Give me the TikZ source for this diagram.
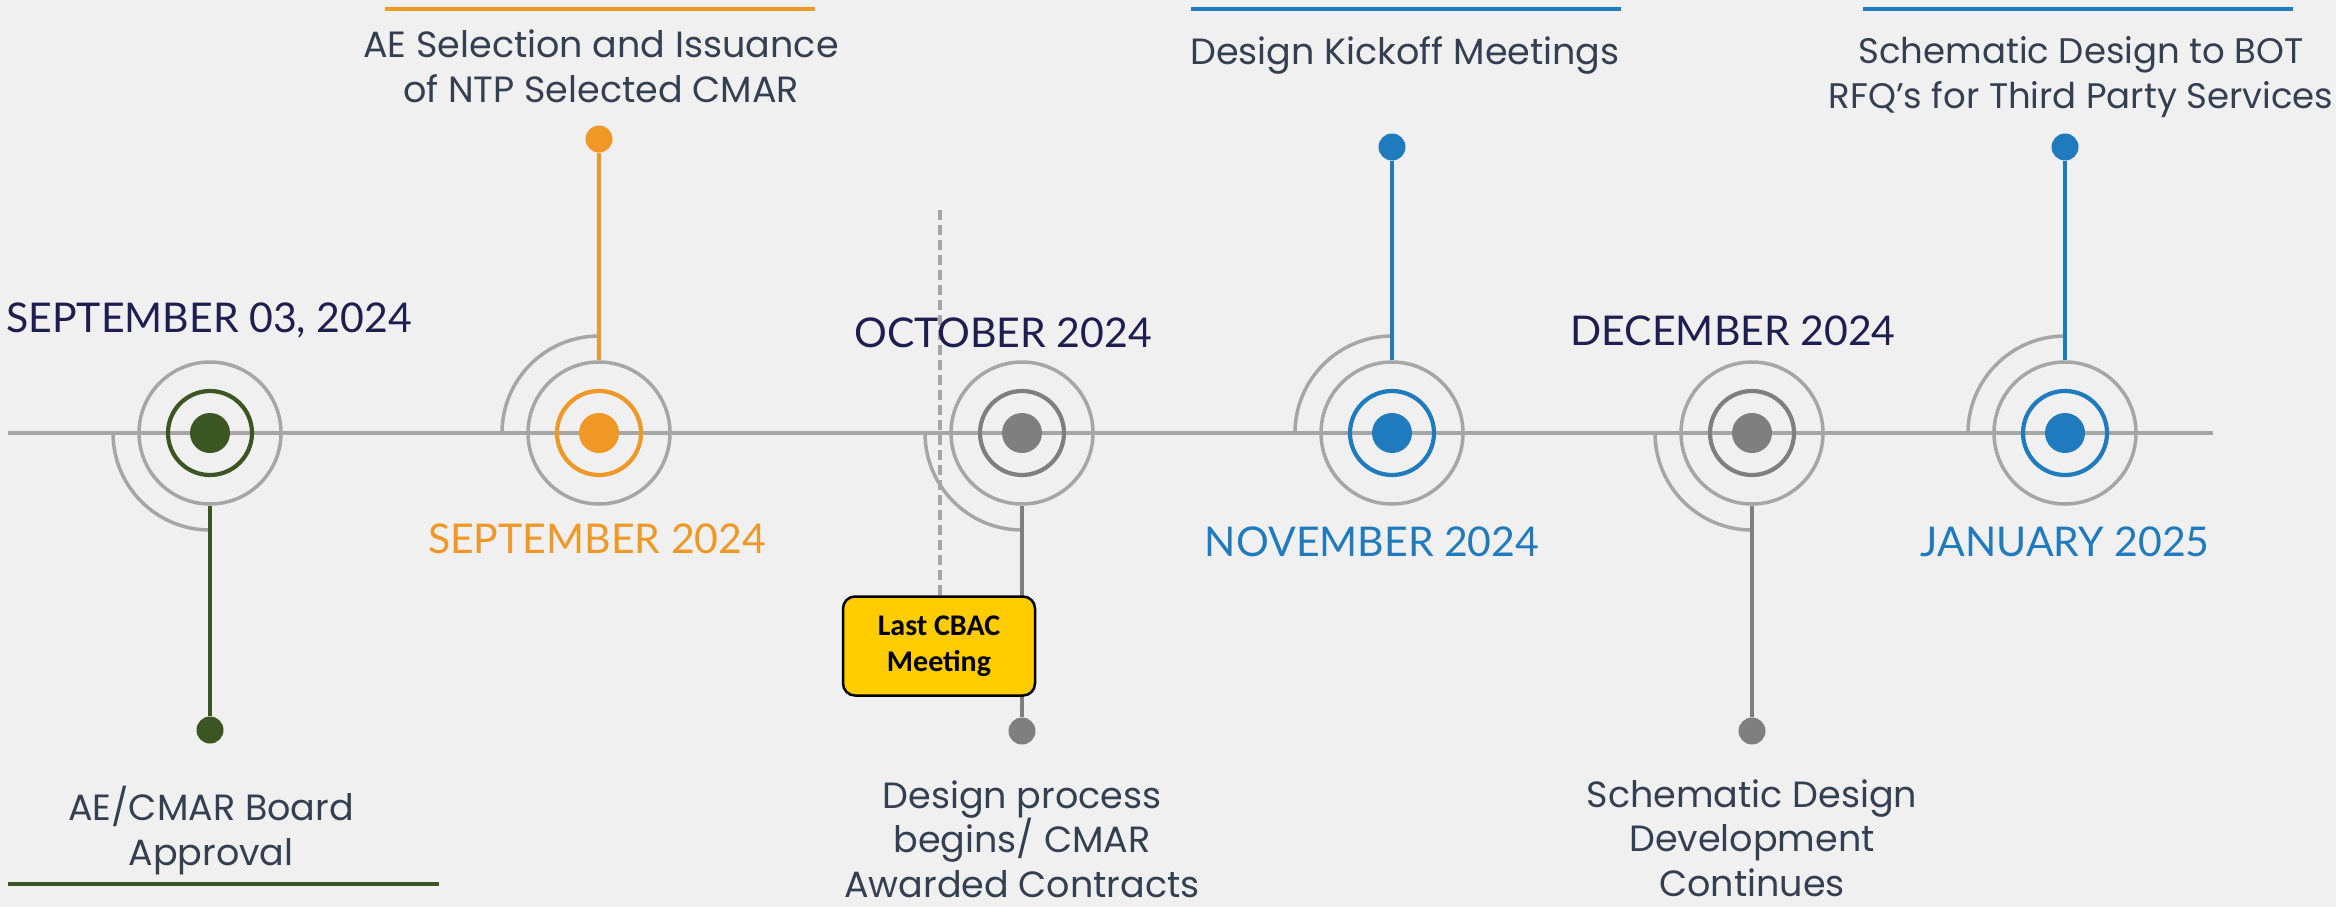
\documentclass[tikz,border=0pt]{standalone}
\usepackage{fontspec}
\setmainfont{Poppins}
\newfontfamily\datefont{Lato}
\newfontfamily\boxfont{Carlito}
\definecolor{bg}{RGB}{240,240,240}
\definecolor{navy}{RGB}{30,30,80}
\definecolor{txt}{RGB}{52,64,82}
\definecolor{orng}{RGB}{240,152,38}
\definecolor{blu}{RGB}{31,123,189}
\definecolor{grn}{RGB}{59,86,34}
\definecolor{ringgray}{RGB}{166,166,166}
\definecolor{dgray}{RGB}{127,127,127}
\definecolor{ylw}{RGB}{255,204,0}
\tikzset{
  axis/.style={draw=ringgray,line width=3.5},
  outerring/.style={circle,draw=ringgray,line width=3.5,minimum size=142,inner sep=0},
  innerring/.style={circle,draw=#1,line width=4.2,minimum size=84,inner sep=0},
  core/.style={circle,fill=#1,minimum size=40,inner sep=0},
  enddot/.style={circle,fill=#1,minimum size=27,inner sep=0},
  stem/.style={draw=#1,line width=3.5},
  quarter/.style={draw=ringgray,line width=3.5},
  rule/.style={draw=#1,line width=4},
  datelbl/.style={anchor=base,inner sep=0,text=#1,font=\datefont\fontsize{41}{50}\selectfont},
  desc/.style={anchor=base,inner sep=0,align=center,text=txt,font=\fontsize{36.5}{44.5}\selectfont},
  notebox/.style={draw=black,line width=2.5,fill=ylw,rounded corners=12,minimum width=192,minimum height=99,align=center,font=\boxfont\bfseries\fontsize{30}{36}\selectfont},
}
\begin{document}
\begin{tikzpicture}[x=1pt,y=-1pt]
\fill[bg] (0,0) rectangle (2336,907);
\useasboundingbox (0,0) rectangle (2336,907);
% timeline
\coordinate (tlA) at (8,433);
\coordinate (tlB) at (2213,433);
\draw[axis] (tlA) -- (tlB);
% quarter arcs
\coordinate (q1) at (113,433);
\coordinate (q2) at (502,433);
\coordinate (q3) at (925,433);
\coordinate (q4) at (1295,433);
\coordinate (q5) at (1655,433);
\coordinate (q6) at (1968,433);
\draw[quarter] (q1) arc[start angle=180,end angle=90,radius=97];
\draw[quarter] (q2) arc[start angle=180,end angle=270,radius=97];
\draw[quarter] (q3) arc[start angle=180,end angle=90,radius=97];
\draw[quarter] (q4) arc[start angle=180,end angle=270,radius=97];
\draw[quarter] (q5) arc[start angle=180,end angle=90,radius=97];
\draw[quarter] (q6) arc[start angle=180,end angle=270,radius=97];
% milestones
\node[outerring] (o1) at (210,433) {};
\node[outerring] (o2) at (599,433) {};
\node[outerring] (o3) at (1022,433) {};
\node[outerring] (o4) at (1392,433) {};
\node[outerring] (o5) at (1752,433) {};
\node[outerring] (o6) at (2065,433) {};
\node[innerring=grn] (r1) at (o1) {};
\node[innerring=orng] (r2) at (o2) {};
\node[innerring=dgray] (r3) at (o3) {};
\node[innerring=blu] (r4) at (o4) {};
\node[innerring=dgray] (r5) at (o5) {};
\node[innerring=blu] (r6) at (o6) {};
\node[core=grn] (c1) at (o1) {};
\node[core=orng] (c2) at (o2) {};
\node[core=dgray] (c3) at (o3) {};
\node[core=blu] (c4) at (o4) {};
\node[core=dgray] (c5) at (o5) {};
\node[core=blu] (c6) at (o6) {};
% end dots
\node[enddot=grn] (e1) at (210,730) {};
\node[enddot=orng] (e2) at (599,139) {};
\node[enddot=dgray] (e3) at (1022,731) {};
\node[enddot=blu] (e4) at (1392,147) {};
\node[enddot=dgray] (e5) at (1752,731) {};
\node[enddot=blu] (e6) at (2065,147) {};
% stems
\draw[stem=grn] (o1.south) -- (e1);
\draw[stem=orng] (o2.north) -- (e2);
\draw[stem=dgray] (o3.south) -- (e3);
\draw[stem=blu] (o4.north) -- (e4);
\draw[stem=dgray] (o5.south) -- (e5);
\draw[stem=blu] (o6.north) -- (e6);
% CBAC box and dashed marker
\coordinate (dtop) at (940,210);
\node[notebox] (box) at (939,646) {Last CBAC\\Meeting};
\draw[draw=ringgray,line width=3.5,dash pattern=on 10 off 5] (dtop) -- (box.north -| dtop);
% dates
\node[datelbl=navy] (d1) at (209,332) {SEPTEMBER 03, 2024};
\node[datelbl=orng] (d2) at (597,553) {SEPTEMBER 2024};
\node[datelbl=navy] (d3) at (1003,347) {OCTOBER 2024};
\node[datelbl=blu] (d4) at (1372,556) {NOVEMBER 2024};
\node[datelbl=navy] (d5) at (1733,345) {DECEMBER 2024};
\node[datelbl=blu] (d6) at (2065,556) {JANUARY 2025};
% descriptions (anchored at the baseline of their last line)
\node[desc] (t1) at (211,865) {AE/CMAR Board\\Approval};
\node[desc] (t2) at (601,102) {AE Selection and Issuance\\of NTP Selected CMAR};
\node[desc] (t3) at (1022,897) {Design process\\begins/ CMAR\\Awarded Contracts};
\node[desc] (t4) at (1405,64) {Design Kickoff Meetings};
\node[desc] (t5) at (1752,896) {Schematic Design\\Development\\Continues};
\node[desc,font=\fontsize{35.5}{44.5}\selectfont] (t6) at (2081,108) {Schematic Design to BOT\\RFQ’s for Third Party Services};
% rules
\draw[rule=grn] (8,884) -- (439,884);
\draw[rule=orng] (385,9) -- (815,9);
\draw[rule=blu] (1191,9) -- (1621,9);
\draw[rule=blu] (1863,9) -- (2293,9);
\end{tikzpicture}
\end{document}
